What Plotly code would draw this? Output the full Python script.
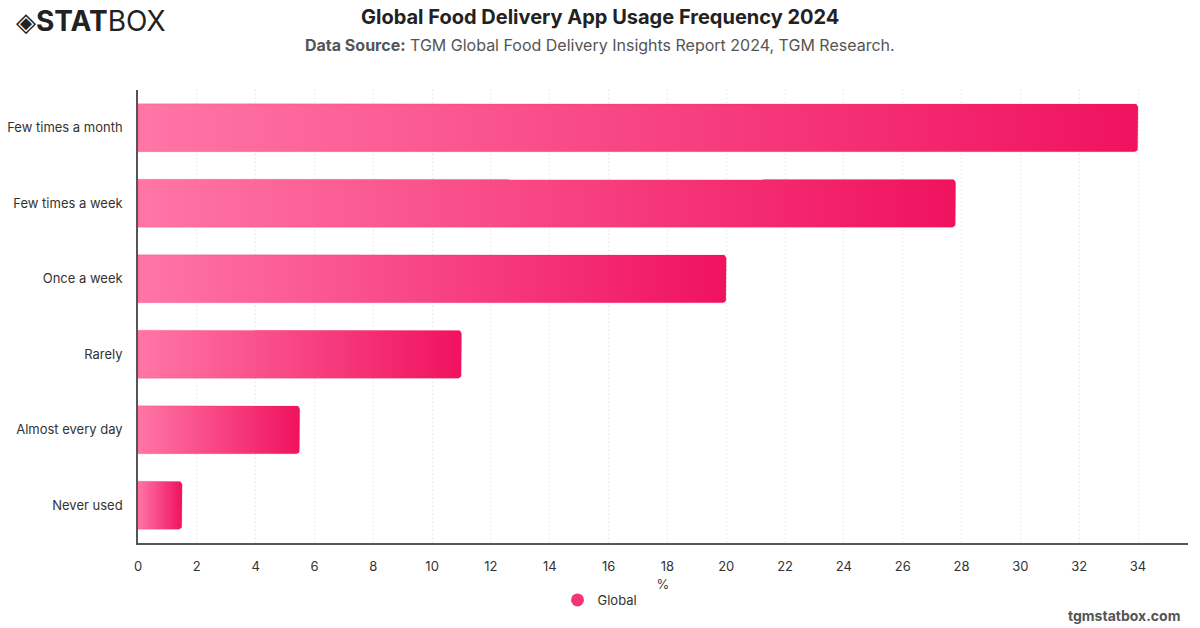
import numpy as np
import plotly.graph_objects as go

categories = ["Few times a month", "Few times a week", "Once a week", "Rarely", "Almost every day", "Never used"]
values = [34.0, 27.8, 20.0, 11.0, 5.5, 1.5]
series_name = "Global"
x_ticks = list(range(0, 35, 2))

LIGHT = "#ff76a6"
DARK = "#f0125f"
FONT = "Inter, Roboto, Arial, sans-serif"

W, H = 1200, 628
L, R, T, B = 138, 12, 90, 85
PW, PH = W - L - R, H - T - B


def px(x):
    return (x - L) / PW


def py(y):
    return (H - B - y) / PH


fig = go.Figure()

half = 0.318  # half bar thickness in category units
rx, ry = 0.13, 0.05  # corner radius in data units (x, y)
theta = np.linspace(0, np.pi / 2, 8)

for i, (cat, v) in enumerate(zip(categories, values)):
    top, bot = i - half, i + half
    xs = [0]
    ys = [top]
    cx, cy = v - rx, top + ry
    xs += list(cx + rx * np.sin(theta))
    ys += list(cy - ry * np.cos(theta))
    cx, cy = v - rx, bot - ry
    xs += list(cx + rx * np.cos(theta))
    ys += list(cy + ry * np.sin(theta))
    xs += [0, 0]
    ys += [bot, top]
    fig.add_trace(go.Scatter(
        x=xs, y=ys, mode="lines", fill="toself",
        line=dict(width=0.8, color="rgba(240,18,95,0.25)"),
        fillgradient=dict(type="horizontal", colorscale=[[0, LIGHT], [1, DARK]]),
        showlegend=False, hoverinfo="text", text=f"{cat}: {v}%",
    ))

fig.add_trace(go.Scatter(
    x=[None], y=[None], mode="markers", name=series_name,
    marker=dict(symbol="circle", size=13, color="#f5357a"),
))

fig.update_layout(
    width=W, height=H,
    margin=dict(l=L, r=R, t=T, b=B, autoexpand=False),
    paper_bgcolor="white", plot_bgcolor="white",
    font=dict(family=FONT, color="#333", size=13),
    showlegend=True,
    legend=dict(orientation="h", x=px(600), xanchor="center",
                y=py(600), yanchor="middle", font=dict(size=13, color="#333")),
    xaxis=dict(
        range=[0, 35.7], tickvals=x_ticks, ticktext=[str(t) for t in x_ticks],
        showgrid=True, gridcolor="#dcdcdc", griddash="1px,3px", gridwidth=1,
        showline=True, linecolor="#555", linewidth=1.5,
        zeroline=False, ticks="", ticklabelstandoff=11, automargin=False,
        tickfont=dict(size=13, color="#333"),
        title=dict(text="%", font=dict(size=13, color="#444"), standoff=7),
        fixedrange=True,
    ),
    yaxis=dict(
        range=[5.5, -0.5], tickvals=list(range(len(categories))), ticktext=categories,
        showgrid=False, showline=True, linecolor="#555", linewidth=1.5,
        zeroline=False, ticks="", ticklabelstandoff=11, automargin=False,
        tickfont=dict(size=13, color="#333"), fixedrange=True,
    ),
)

fig.add_annotation(text="<b>Global Food Delivery App Usage Frequency 2024</b>",
                   x=px(600), y=py(17), xref="paper", yref="paper", yanchor="middle",
                   xanchor="center", showarrow=False, font=dict(size=20, color="#222", family=FONT))
fig.add_annotation(text="<b>Data Source:</b> TGM Global Food Delivery Insights Report 2024, TGM Research.",
                   x=px(600), y=py(45), xref="paper", yref="paper", yanchor="middle",
                   xanchor="center", showarrow=False, font=dict(size=16, color="#555", family=FONT))
fig.add_annotation(text="<span style='font-size:26px'>◈</span><b>STAT</b>BOX",
                   x=px(14), y=py(21), xref="paper", yref="paper", yanchor="middle",
                   xanchor="left", showarrow=False, font=dict(size=28, color="#222", family=FONT))
fig.add_annotation(text="<b>tgmstatbox.com</b>",
                   x=px(1182), y=py(615), xref="paper", yref="paper", yanchor="middle",
                   xanchor="right", showarrow=False, font=dict(size=14, color="#555", family=FONT))

fig.write_html("out.html")
